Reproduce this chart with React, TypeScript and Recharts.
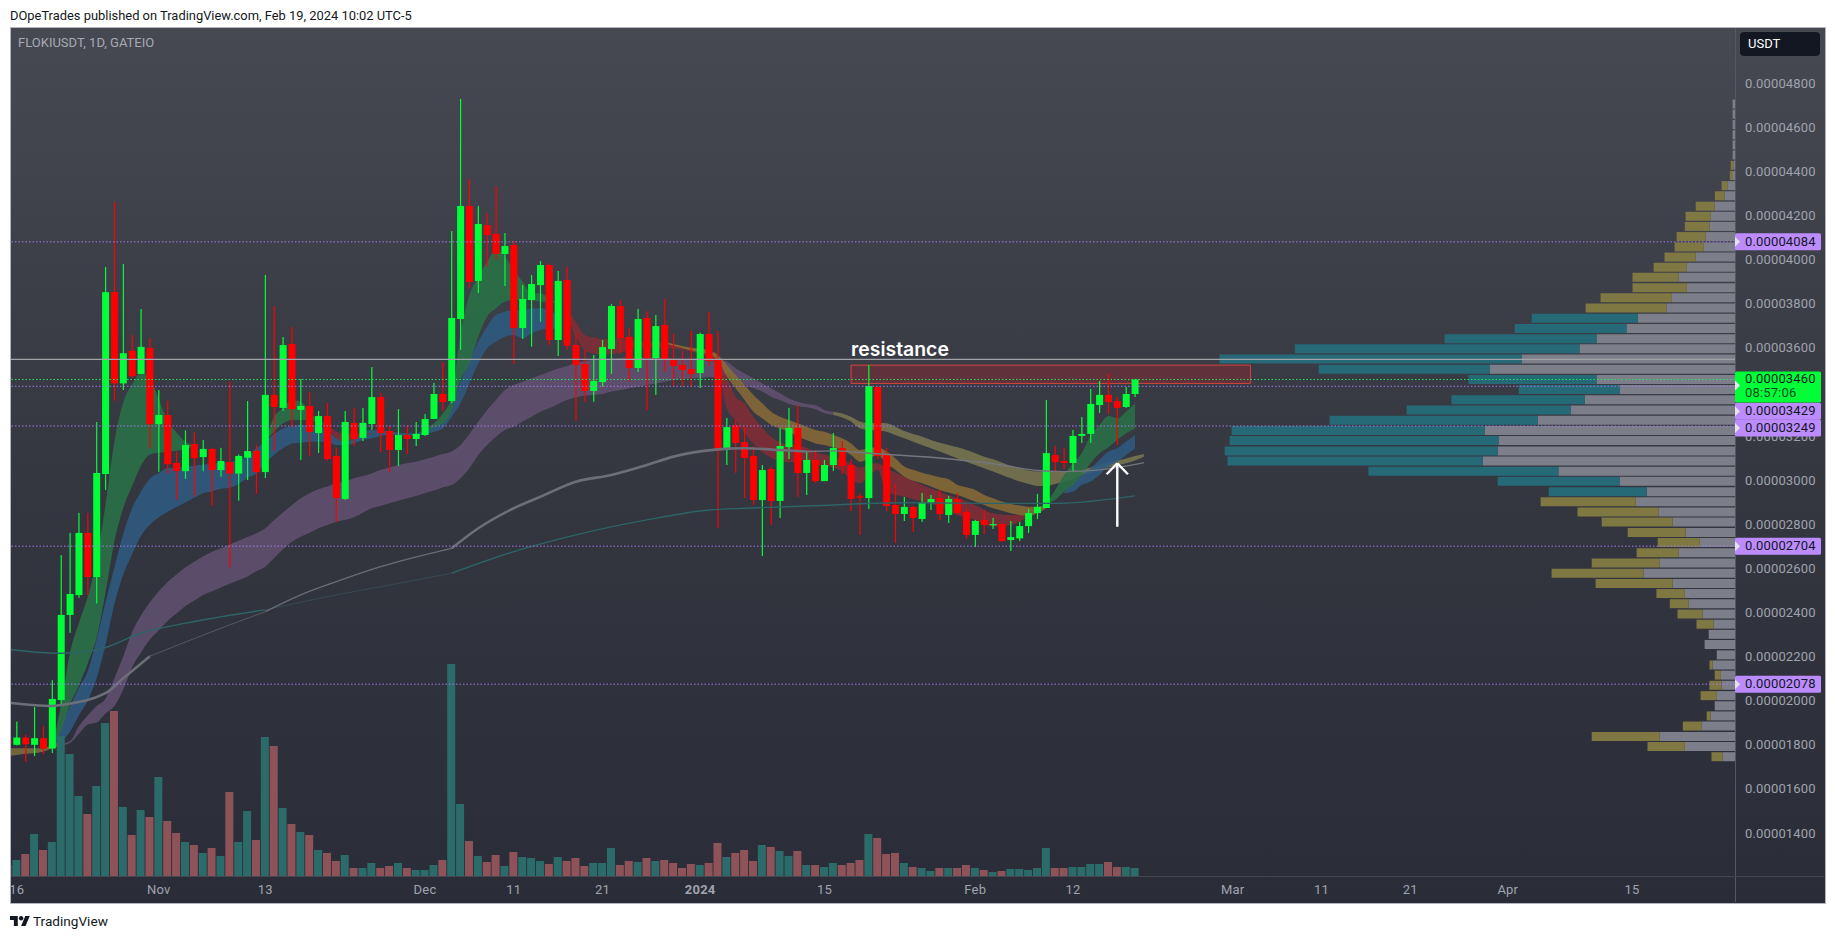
import React from 'react';
import {
  Area,
  Bar,
  BarChart,
  Cell,
  ComposedChart,
  Line,
  ReferenceArea,
  ReferenceDot,
  ReferenceLine,
  XAxis,
  YAxis,
} from 'recharts';

// prices are in units of 0.00000001 USDT, days are counted from Nov 1 2023
const FIRST_DAY = -17;

const opens = [
  1836, 1803, 1836, 1803, 1833, 1786, 2006, 2392, 2482, 2764, 2564, 3031, 3856, 3442, 3590, 3485, 3603,
  3257, 3299, 3081, 3044, 3167, 3108, 3145, 3049, 3086, 3033, 3105, 3136, 3040, 3390, 3331, 3621, 3322, 3340, 3217,
  3294, 3113, 2918, 3263, 3195, 3258, 3380, 3226, 3140, 3208, 3190, 3208, 3281, 3394, 3362, 3734, 4247, 3907, 4160, 4120,
  4029, 4070, 3693, 3820, 3888, 3979, 3639, 3911, 3616, 3530, 3408, 3448, 3598, 3793, 3653, 3512, 3739, 3557, 3707, 3553,
  3526, 3507, 3489, 3666, 3548, 3140, 3253, 3176, 3113, 2913, 3054, 2909, 3153, 3240, 3036, 3095, 2999, 3072, 3149, 3072,
  2930, 2922, 3426, 3117, 2891, 2850, 2882, 2827, 2900, 2922, 2845, 2918, 2859, 2755, 2823, 2800, 2804, 2732, 2739, 2795,
  2854, 2877, 3117, 3090, 3081, 3204, 3213, 3344, 3390, 3362, 3335, 3394,
];
const closes = [
  1808, 1836, 1806, 1833, 1786, 2011, 2392, 2487, 2764, 2564, 3036, 3856, 3442, 3579, 3475, 3608, 3257,
  3299, 3076, 3044, 3163, 3103, 3145, 3049, 3090, 3033, 3113, 3135, 3040, 3390, 3335, 3616, 3326, 3340, 3222, 3294,
  3099, 2922, 3267, 3190, 3263, 3380, 3217, 3140, 3208, 3190, 3213, 3281, 3394, 3358, 3739, 4247, 3902, 4165, 4115, 4029,
  4065, 3693, 3825, 3893, 3979, 3639, 3907, 3613, 3526, 3408, 3453, 3607, 3793, 3648, 3512, 3734, 3557, 3702, 3548, 3521,
  3503, 3485, 3666, 3544, 3136, 3244, 3172, 3104, 2913, 3049, 2909, 3158, 3240, 3036, 3095, 2999, 3072, 3149, 3068, 2918,
  2924, 3430, 3113, 2886, 2850, 2882, 2832, 2904, 2918, 2850, 2918, 2855, 2755, 2818, 2800, 2804, 2727, 2745, 2795, 2854,
  2882, 3126, 3086, 3081, 3204, 3213, 3349, 3390, 3358, 3331, 3394, 3460,
];
const highs = [
  1840, 1908, 1849, 1974, 1887, 2096, 2663, 2764, 2855, 2855, 3267, 3970, 4266, 3984, 3662, 3779, 3648,
  3412, 3363, 3131, 3229, 3220, 3185, 3148, 3150, 3449, 3120, 3362, 3163, 3934, 3793, 3653, 3698, 3462, 3403, 3317,
  3353, 3149, 3317, 3331, 3331, 3516, 3399, 3249, 3326, 3253, 3267, 3303, 3444, 3539, 4133, 4732, 4369, 4247, 4213, 4337,
  4124, 4088, 3888, 3934, 3997, 3987, 3952, 3970, 3675, 3594, 3571, 3639, 3802, 3820, 3693, 3780, 3770, 3752, 3825, 3669,
  3589, 3680, 3672, 3766, 3680, 3285, 3281, 3244, 3158, 3072, 3063, 3240, 3331, 3344, 3131, 3140, 3095, 3217, 3181, 3095,
  2945, 3526, 3426, 3149, 2986, 2927, 2886, 2945, 2936, 2959, 2932, 2944, 2873, 2823, 2868, 2832, 2807, 2818, 2814, 2873,
  2941, 3367, 3158, 3149, 3231, 3290, 3417, 3453, 3485, 3380, 3426, 3460,
];
const lows = [
  1805, 1800, 1727, 1752, 1761, 1766, 1984, 2311, 2470, 2482, 2444, 2959, 3363, 3412, 3467, 3485, 3148,
  3041, 3033, 2915, 3009, 2929, 3044, 2888, 3019, 2608, 2910, 3004, 2941, 3013, 3136, 3317, 3243, 3095, 3113, 3127,
  3090, 2814, 2913, 3158, 3181, 3231, 3131, 3040, 3068, 3122, 3158, 3204, 3281, 3317, 3353, 3594, 3875, 3852, 3972, 4002,
  3884, 3530, 3644, 3609, 3722, 3616, 3566, 3594, 3272, 3359, 3359, 3427, 3485, 3578, 3450, 3494, 3321, 3390, 3494, 3430,
  3427, 3427, 3421, 3521, 2786, 3072, 3036, 2922, 2891, 2659, 2800, 2832, 3099, 2927, 2936, 2990, 2999, 3045, 3031, 2863,
  2755, 2873, 3099, 2863, 2718, 2818, 2768, 2814, 2868, 2823, 2809, 2845, 2736, 2700, 2759, 2782, 2724, 2682, 2727, 2764,
  2827, 2877, 3040, 3054, 3040, 3172, 3172, 3308, 3303, 3163, 3331, 3380,
];
const volumes = [
  11, 16, 22, 42, 26, 34, 140, 122, 80, 62, 90, 153, 165, 69, 41, 66, 59,
  99, 55, 43, 34, 31, 23, 28, 20, 84, 34, 65, 36, 139, 130, 68, 52, 44, 41, 26,
  23, 15, 21, 8, 8, 13, 8, 10, 13, 8, 6, 6, 11, 16, 212, 72, 35, 20, 14, 21,
  10, 24, 19, 18, 15, 12, 19, 15, 18, 10, 13, 13, 28, 11, 15, 14, 18, 15, 16, 13,
  8, 12, 11, 13, 33, 19, 23, 26, 15, 31, 29, 25, 20, 25, 11, 11, 9, 13, 11, 13,
  16, 42, 38, 22, 23, 13, 9, 8, 5, 8, 8, 8, 11, 8, 6, 4, 5, 7, 7, 6,
  8, 28, 8, 8, 9, 9, 12, 12, 14, 9, 9, 8,
];

// 3400 is left out: the last price tag sits on it in the reference
const priceTicks = [1400, 1600, 1800, 2000, 2200, 2400, 2600, 2800, 3000, 3200, 3600, 3800, 4000, 4200, 4400, 4600, 4800];
const dateTicks = [-16, 0, 12, 30, 40, 50, 61, 75, 92, 103, 121, 131, 141, 152, 166];
const dateLabels = ['16', 'Nov', '13', 'Dec', '11', '21', '2024', '15', 'Feb', '12', 'Mar', '11', '21', 'Apr', '15'];

type Band = [number, number, number]; // day, lower edge, upper edge

const greenBandA: Band[] = [
  [-12, 1790, 1800], [-11, 1870, 1987], [-10, 1987, 2222], [-9, 2071, 2356], [-8, 2172, 2474], [-7, 2289, 2642],
  [-6, 2491, 2893], [-5, 2725, 3178], [-4, 2877, 3355], [-3, 2977, 3438], [-2, 3069, 3489], [-1, 3120, 3464],
  [0, 3128, 3371], [1, 3132, 3271], [2, 3137, 3220], [3, 3145, 3178], [4, 3158, 3162],
];
const greenBandB: Band[] = [
  [11, 3130, 3132], [12, 3178, 3185], [13, 3223, 3291], [14, 3261, 3329], [15, 3276, 3367], [16, 3276, 3359],
  [17, 3276, 3314], [18, 3261, 3276], [19, 3250, 3252],
];
const greenBandC: Band[] = [
  [30, 3225, 3230], [31, 3243, 3261], [32, 3261, 3306], [33, 3322, 3382], [34, 3457, 3669], [35, 3533, 3843],
  [36, 3654, 3926], [37, 3745, 3994], [38, 3783, 4047], [39, 3813, 4017], [40, 3820, 3956], [41, 3820, 3904],
  [42, 3820, 3851], [43, 3813, 3851], [44, 3813, 3828], [45, 3800, 3804],
];
const greenBandD: Band[] = [
  [100, 2895, 2900], [101, 2913, 2959], [102, 2951, 3027], [103, 2981, 3080], [104, 3027, 3125], [105, 3080, 3208],
  [106, 3125, 3253], [107, 3152, 3294], [108, 3186, 3284], [109, 3216, 3314], [110, 3238, 3352],
];
const redBandA: Band[] = [
  [19, 3246, 3261], [20, 3193, 3223], [21, 3170, 3216], [22, 3193, 3216], [23, 3208, 3216], [24, 3212, 3216],
];
const redBandB: Band[] = [
  [46, 3745, 3775], [47, 3654, 3722], [48, 3594, 3662], [49, 3578, 3651], [50, 3571, 3642], [51, 3575, 3647],
  [52, 3582, 3651], [53, 3594, 3642], [54, 3601, 3631], [57, 3601, 3627], [60, 3586, 3601], [62, 3556, 3594],
  [63, 3510, 3556], [64, 3329, 3473], [65, 3276, 3382], [66, 3216, 3352], [67, 3170, 3291], [68, 3130, 3240],
  [69, 3105, 3200], [70, 3090, 3175], [71, 3085, 3165], [72, 3085, 3160], [73, 3090, 3150], [74, 3075, 3130],
  [75, 3070, 3120], [76, 3060, 3110], [77, 3045, 3095], [78, 3005, 3080], [79, 2990, 3060], [80, 3020, 3075],
  [81, 3050, 3080], [82, 2951, 3057], [84, 2928, 3019], [86, 2906, 2981], [88, 2883, 2951], [90, 2845, 2921],
  [92, 2823, 2891], [94, 2792, 2853], [96, 2800, 2845], [98, 2838, 2845],
];
const blueBandA: Band[] = [
  [-12, 1811, 1820], [-11, 1820, 1895], [-10, 1862, 1979], [-9, 1937, 2063], [-8, 2004, 2138], [-7, 2105, 2281],
  [-6, 2256, 2449], [-5, 2440, 2608], [-4, 2574, 2759], [-3, 2667, 2877], [-2, 2751, 2952], [-1, 2801, 3011],
  [0, 2835, 3036], [1, 2860, 3058], [2, 2882, 3061], [3, 2902, 3064], [4, 2923, 3069], [5, 2944, 3074],
  [6, 2952, 3078], [7, 2964, 3081], [8, 2969, 3086], [9, 2986, 3095], [10, 3014, 3111], [11, 3034, 3148],
  [12, 3080, 3178], [13, 3118, 3213], [14, 3148, 3238], [15, 3170, 3249], [16, 3173, 3253], [17, 3178, 3253],
  [18, 3178, 3246], [19, 3178, 3231], [20, 3163, 3193], [21, 3163, 3178], [22, 3170, 3193], [23, 3185, 3223],
  [24, 3193, 3231], [25, 3204, 3231], [26, 3208, 3223], [27, 3208, 3219], [28, 3204, 3216], [29, 3206, 3216],
  [30, 3213, 3231], [31, 3223, 3246], [32, 3238, 3276], [33, 3291, 3337], [34, 3352, 3450], [35, 3443, 3541],
  [36, 3533, 3631], [37, 3601, 3700], [38, 3631, 3752], [39, 3654, 3767], [40, 3662, 3775], [41, 3647, 3771],
  [42, 3669, 3783], [43, 3684, 3783], [44, 3692, 3775], [45, 3684, 3745],
];
const blueBandB: Band[] = [
  [102, 2945, 2950], [103, 2951, 2989], [104, 2981, 3027], [105, 2997, 3057], [106, 3027, 3095], [107, 3065, 3133],
  [108, 3087, 3148], [109, 3117, 3178], [110, 3148, 3208],
];
const mauveBand: Band[] = [
  [-12, 1790, 1795], [-11, 1800, 1806], [-10, 1811, 1820], [-9, 1853, 1887], [-8, 1895, 1937], [-7, 1904, 1979],
  [-6, 1945, 2012], [-5, 1979, 2105], [-4, 2054, 2205], [-3, 2155, 2315], [-2, 2222, 2390], [-1, 2281, 2449],
  [0, 2323, 2499], [1, 2365, 2541], [2, 2398, 2575], [3, 2432, 2608], [4, 2457, 2633], [5, 2482, 2658],
  [6, 2499, 2679], [7, 2516, 2695], [8, 2533, 2712], [9, 2549, 2729], [10, 2566, 2746], [11, 2590, 2762],
  [12, 2611, 2785], [13, 2650, 2823], [14, 2690, 2857], [15, 2724, 2891], [16, 2747, 2921], [17, 2765, 2944],
  [18, 2785, 2962], [19, 2800, 2974], [20, 2815, 2989], [21, 2823, 2997], [22, 2835, 3012], [23, 2856, 3022],
  [24, 2876, 3034], [25, 2886, 3050], [26, 2898, 3061], [27, 2910, 3072], [28, 2921, 3080], [29, 2932, 3087],
  [30, 2944, 3098], [31, 2956, 3110], [32, 2971, 3122], [33, 2981, 3133], [34, 3012, 3163], [35, 3057, 3213],
  [36, 3117, 3269], [37, 3163, 3322], [38, 3200, 3367], [39, 3231, 3412], [40, 3246, 3435], [41, 3269, 3450],
  [42, 3291, 3465], [43, 3314, 3480], [44, 3329, 3495], [45, 3349, 3510], [46, 3367, 3521], [47, 3379, 3533],
  [48, 3387, 3544], [49, 3390, 3548], [50, 3394, 3551], [51, 3405, 3554], [52, 3412, 3557], [53, 3420, 3560],
  [54, 3427, 3560], [55, 3435, 3560], [56, 3442, 3560], [57, 3450, 3557], [58, 3458, 3556], [59, 3461, 3554],
  [60, 3464, 3554], [61, 3467, 3554], [62, 3470, 3554], [63, 3473, 3551], [64, 3480, 3541], [65, 3458, 3510],
  [66, 3435, 3488], [67, 3420, 3465], [68, 3405, 3442], [69, 3382, 3420], [70, 3367, 3397], [71, 3349, 3374],
  [72, 3340, 3359], [73, 3334, 3349], [74, 3325, 3344], [75, 3307, 3322], [76, 3299, 3314],
];
const orangeBand: Band[] = [
  [57, 3624, 3631], [60, 3591, 3604], [62, 3571, 3594], [63, 3548, 3571], [64, 3473, 3526], [65, 3420, 3480],
  [66, 3367, 3435], [67, 3314, 3390], [68, 3284, 3352], [69, 3253, 3314], [70, 3238, 3291], [71, 3223, 3276],
  [72, 3200, 3261], [73, 3185, 3246], [74, 3170, 3231], [75, 3163, 3223], [76, 3152, 3208], [77, 3140, 3193],
  [78, 3117, 3170], [79, 3087, 3140], [80, 3102, 3148], [81, 3117, 3152], [82, 3080, 3133], [83, 3050, 3102],
  [84, 3019, 3065], [85, 3001, 3050], [86, 2989, 3037], [87, 2974, 3027], [88, 2959, 3016], [89, 2947, 3007],
  [90, 2936, 2981], [91, 2921, 2971], [92, 2906, 2959], [93, 2891, 2936], [94, 2876, 2921], [95, 2865, 2906],
  [96, 2853, 2895], [97, 2845, 2888], [98, 2841, 2883], [99, 2853, 2883], [100, 2876, 2891],
];
const oliveBandA: Band[] = [
  [-17, 1752, 1787], [-15, 1762, 1787], [-13, 1772, 1787], [-12, 1788, 1804], [-11, 1800, 1822],
];
const oliveBandB: Band[] = [
  [76, 3299, 3314], [77, 3288, 3306], [78, 3269, 3291], [79, 3238, 3269], [80, 3231, 3261], [81, 3228, 3264],
  [82, 3223, 3261], [83, 3208, 3246], [84, 3193, 3226], [85, 3178, 3213], [86, 3163, 3201], [87, 3148, 3185],
  [88, 3133, 3173], [89, 3117, 3163], [90, 3102, 3152], [91, 3087, 3140], [92, 3072, 3125], [93, 3057, 3110],
  [94, 3042, 3098], [95, 3027, 3083], [96, 3012, 3068], [97, 2997, 3057], [98, 2986, 3047], [99, 2977, 3042],
  [100, 2977, 3042], [101, 2986, 3042], [102, 2997, 3042], [103, 3007, 3047], [104, 3027, 3052], [105, 3034, 3061],
  [106, 3050, 3072], [107, 3061, 3083], [108, 3072, 3092], [109, 3080, 3102], [110, 3092, 3113], [111, 3110, 3122],
];

type Pt = [number, number]; // day, price

const grayLineThick: Pt[] = [[-17, 1994], [-12, 1979], [-11, 1984], [-6, 2037], [-4, 2105], [-1, 2205]];
const grayLineFaint: Pt[] = [[-1, 2205], [4, 2285], [12, 2407]];
const grayLineThin: Pt[] = [[12, 2407], [16, 2483], [20, 2543], [25, 2611], [33, 2694]];
const grayLineMid: Pt[] = [
  [33, 2694], [36, 2785], [40, 2876], [43, 2928], [47, 2996], [51, 3027], [55, 3072], [58, 3110], [63, 3143], [66, 3148], [70, 3140], [73, 3133],
];
const grayLineFar: Pt[] = [[73, 3133], [76, 3136], [80, 3125], [87, 3107], [95, 3072], [99, 3047], [102, 3042], [106, 3050], [111, 3083]];
const tealLineLeft: Pt[] = [[-17, 2236], [-11, 2218], [-7, 2233], [-2, 2309], [4, 2362], [12, 2415]];
const tealLineFaint: Pt[] = [[12, 2415], [20, 2483], [25, 2520], [33, 2581]];
const tealLineRight: Pt[] = [
  [33, 2581], [40, 2679], [47, 2755], [55, 2823], [62, 2868], [66, 2876], [73, 2886], [84, 2901], [95, 2898], [101, 2898], [110, 2932],
];

// volume profile rows, top to bottom
const profilePrices = [
  4711, 4665, 4618, 4572, 4526, 4480, 4433, 4387, 4341, 4295, 4248, 4202, 4156, 4110, 4063, 4017, 3971, 3925, 3878, 3832,
  3786, 3740, 3693, 3647, 3601, 3555, 3508, 3462, 3416, 3370, 3323, 3277, 3231, 3185, 3138, 3092, 3046, 3000, 2953, 2907,
  2861, 2815, 2768, 2722, 2676, 2630, 2583, 2537, 2491, 2445, 2398, 2352, 2306, 2260, 2213, 2167, 2121, 2075, 2028, 1982,
  1936, 1890, 1843, 1797, 1751,
];
const profileBase = [
  2.4, 2.4, 2.4, 2.4, 2.4, 2.4, 1.6, 2, 7.3, 10.5, 20.3, 24.3, 25.5, 29.6, 31.2, 39.3, 48.2, 56.3, 48.2, 63.2,
  68.4, 97.2, 108.5, 138.5, 155.5, 213.4, 245.4, 138.5, 115.4, 150.3, 164.4, 197.2, 250.3, 236.5, 237.3, 252.3, 176.6, 115.4, 88.3, 99.2,
  76.5, 62.4, 49.4, 35.2, 56.3, 75.3, 91.5, 62.4, 50.2, 46.6, 32.4, 21.5, 26.3, 30.4, 18.2, 22.3, 14.2, 13.4, 18.2, 20.3,
  24.3, 33.2, 75.3, 50.2, 12.6,
];
const profileTeal = [
  0, 0, 0, 0, 0, 0, 0, 0, 0, 0, 0, 0, 0, 0, 0, 0, 0, 0, 0, 0,
  0, 106.1, 111.8, 151.9, 284.7, 302.1, 170.9, 128, 100.9, 133.3, 164, 208.2, 253.1, 268.9, 273, 255.2, 190, 121.9, 98, 0,
  0, 0, 0, 0, 0, 0, 0, 0, 0, 0, 0, 0, 0, 0, 0, 0, 0, 0, 0, 0,
  0, 0, 0, 0, 0,
];
const profileOlive = [
  0, 0, 0, 0, 0, 0, 2.8, 3.2, 6.1, 9.7, 19, 25.1, 24.7, 28.8, 29.2, 31.2, 33.2, 46.2, 54.3, 71.3,
  81, 0, 0, 0, 0, 0, 0, 0, 0, 0, 0, 0, 0, 0, 0, 0, 0, 0, 0, 95.2,
  81, 70.9, 57.9, 42.1, 42.1, 68, 91.9, 77, 28.4, 18.6, 25.1, 17, 0, 0, 0, 3.2, 6.1, 12.2, 16.2, 0,
  4, 19, 68, 37.3, 10.9,
];

const purpleLevels = [4084, 3429, 3249, 2704, 2078];
const lastPrice = 3460;
const countdown = '08:57:06';
const topLine = 3551;
const zone = { x1: 78, x2: 123, y1: 3442, y2: 3525 };

const chartRows = opens.map((open, i) => ({
  day: FIRST_DAY + i,
  open,
  close: closes[i],
  range: [lows[i], highs[i]],
  volume: volumes[i],
}));
const profileRows = profilePrices.map((price, i) => ({
  price,
  base: profileBase[i],
  teal: profileTeal[i],
  olive: profileOlive[i],
}));
const toBand = (band: Band[]) => band.map(([day, lo, hi]) => ({ day, range: [lo, hi] }));
const toLine = (line: Pt[]) => line.map(([day, price]) => ({ day, price }));

const bands: { data: Band[]; fill: string; opacity: number }[] = [
  { data: mauveBand, fill: '#655474', opacity: 0.8 },
  { data: oliveBandA, fill: '#7b7040', opacity: 0.85 },
  { data: oliveBandB, fill: '#7d7a50', opacity: 0.82 },
  { data: blueBandA, fill: '#2f5a80', opacity: 0.9 },
  { data: blueBandB, fill: '#2f5a80', opacity: 0.9 },
  { data: redBandA, fill: '#8c2c35', opacity: 0.75 },
  { data: redBandB, fill: '#8c2c35', opacity: 0.78 },
  { data: orangeBand, fill: '#8a6c36', opacity: 0.85 },
  { data: greenBandA, fill: '#2a6f47', opacity: 0.92 },
  { data: greenBandB, fill: '#2a6f47', opacity: 0.92 },
  { data: greenBandC, fill: '#2a6f47', opacity: 0.92 },
  { data: greenBandD, fill: '#2a6f47', opacity: 0.88 },
];
const lines: { data: Pt[]; stroke: string; width: number }[] = [
  { data: tealLineLeft, stroke: '#2c6468', width: 1.4 },
  { data: tealLineFaint, stroke: '#364a52', width: 1 },
  { data: tealLineRight, stroke: '#2c6468', width: 1.4 },
  { data: grayLineThick, stroke: '#6c6e78', width: 2.6 },
  { data: grayLineFaint, stroke: '#565862', width: 1 },
  { data: grayLineThin, stroke: '#6a6c76', width: 1.4 },
  { data: grayLineMid, stroke: '#6c6e78', width: 2.6 },
  { data: grayLineFar, stroke: '#74767f', width: 1.4 },
];

const fmt = (v: number) => (v / 1e8).toFixed(8);
const UI_FONT = 'Roboto, sans-serif';
const AXIS_TEXT = '#a0a3ad';
const PURPLE = '#bc8cff';
const GREEN = '#00ff37';
const RED = '#ff0000';
const PROFILE_MARGIN = { left: 11, right: 100, top: 28, bottom: 63 };
const Y_DOMAIN: [number, number] = [1208, 5054];
const X_DOMAIN: [number, number] = [-16.65, 177.6];

const Candle = (props: any) => {
  const { x, y, width, height, payload } = props;
  const up = payload.close >= payload.open;
  const high = payload.range[1];
  const low = payload.range[0];
  const perUnit = height / (high - low);
  const top = y + (high - Math.max(payload.open, payload.close)) * perUnit;
  const bottom = y + (high - Math.min(payload.open, payload.close)) * perUnit;
  const fill = up ? GREEN : RED;
  return (
    <g>
      <rect x={x + width / 2 - 0.6} y={y} width={1.2} height={height} fill={fill} />
      <rect x={x} y={top} width={width} height={Math.max(bottom - top, 1.2)} fill={fill} />
    </g>
  );
};

const PriceTick = (props: any) => (
  <text x={1745} y={props.y} dy="0.3em" textAnchor="start" fontFamily={UI_FONT} fontSize={13} letterSpacing={0.15} fill={AXIS_TEXT}>
    {fmt(props.payload.value)}
  </text>
);

const DateTick = (props: any) => {
  const label = dateLabels[dateTicks.indexOf(props.payload.value)];
  return (
    <text
      x={props.x}
      y={894}
      textAnchor="middle"
      fontFamily={UI_FONT}
      fontSize={13}
      letterSpacing={0.2}
      fontWeight={label === '2024' ? 700 : 400}
      fill={AXIS_TEXT}
    >
      {label}
    </text>
  );
};

// price tag on the axis, pushed down by `shift` when the tags would overlap
const priceTag = (value: number, shift: number) => (props: any) => {
  const right = props.viewBox.x + props.viewBox.width;
  const cy = props.viewBox.y + shift;
  return (
    <g>
      <rect x={right} y={cy - 8.5} width={86} height={17} rx={1.5} fill={PURPLE} />
      <path d={`M${right} ${cy - 5}L${right + 5} ${cy}L${right} ${cy + 5}Z`} fill="#e3e3ea" />
      <text x={1745} y={cy} dy="0.3em" fontFamily={UI_FONT} fontSize={13} letterSpacing={0.15} fill="#131722">
        {fmt(value)}
      </text>
    </g>
  );
};

const lastTag = (props: any) => {
  const right = props.viewBox.x + props.viewBox.width;
  const cy = props.viewBox.y;
  return (
    <g>
      <rect x={right} y={cy - 8} width={86} height={31} rx={1.5} fill={GREEN} />
      <path d={`M${right} ${cy + 1}L${right + 5} ${cy + 6}L${right} ${cy + 11}Z`} fill="#e3e3ea" />
      <text x={1745} y={cy} dy="0.3em" fontFamily={UI_FONT} fontSize={13} letterSpacing={0.15} fill="#131722">
        {fmt(lastPrice)}
      </text>
      <text x={1745} y={cy + 14} dy="0.3em" fontFamily={UI_FONT} fontSize={13} letterSpacing={0.15} fill="#0d4a22">
        {countdown}
      </text>
    </g>
  );
};

export default function App() {
  return (
    <div style={{ position: 'absolute', left: 0, top: 0, width: 1835, height: 939, background: '#fff', overflow: 'hidden' }}>
      <div style={{ position: 'absolute', left: 10, top: 8, fontFamily: UI_FONT, fontSize: 12.9, color: '#131722', lineHeight: '16px', whiteSpace: 'nowrap' }}>
        DOpeTrades published on TradingView.com, Feb 19, 2024 10:02 UTC-5
      </div>

      {/* pane */}
      <div
        style={{
          position: 'absolute',
          left: 10,
          top: 27,
          width: 1814,
          height: 875,
          border: '1px solid #b2b5be',
          background: 'linear-gradient(180deg, #464852 0%, #33353f 55%, #2a2d38 100%)',
        }}
      />
      <div style={{ position: 'absolute', left: 1735, top: 28, width: 1, height: 874, background: '#555762' }} />
      <div style={{ position: 'absolute', left: 11, top: 876, width: 1813, height: 1, background: '#444650' }} />

      <div style={{ position: 'absolute', left: 0, top: 0 }}>
        <BarChart width={1835} height={939} data={profileRows} layout="vertical" margin={PROFILE_MARGIN} barGap={0}>
          <XAxis type="number" domain={[0, 1724]} reversed hide />
          <YAxis type="number" dataKey="price" domain={Y_DOMAIN} allowDataOverflow reversed hide />
          <Bar dataKey="base" stackId="profile" fill="#7c7f89" barSize={9} isAnimationActive={false} />
          <Bar dataKey="teal" stackId="profile" fill="#266a78" barSize={9} isAnimationActive={false} />
          <Bar dataKey="olive" stackId="profile" fill="#807842" barSize={9} isAnimationActive={false} />
        </BarChart>
      </div>

      <div style={{ position: 'absolute', left: 0, top: 0 }}>
        <ComposedChart width={1835} height={939} data={chartRows} margin={{ left: 11, right: 10, top: 28, bottom: 27 }}>
          <XAxis
            dataKey="day"
            type="number"
            domain={X_DOMAIN}
            allowDataOverflow
            ticks={dateTicks}
            interval={0}
            height={36}
            axisLine={false}
            tickLine={false}
            tick={DateTick}
          />
          <XAxis xAxisId="vol" dataKey="day" type="number" domain={X_DOMAIN} allowDataOverflow hide />
          <YAxis
            orientation="right"
            type="number"
            domain={Y_DOMAIN}
            allowDataOverflow
            ticks={priceTicks}
            interval={0}
            width={90}
            axisLine={false}
            tickLine={false}
            tick={PriceTick}
          />
          <YAxis yAxisId="vol" type="number" domain={[0, 848]} hide />

          <Bar xAxisId="vol" yAxisId="vol" dataKey="volume" barSize={8} isAnimationActive={false}>
            {chartRows.map((row) => (
              <Cell key={row.day} fill={row.close >= row.open ? '#2b6c6b' : '#8d5359'} />
            ))}
          </Bar>

          {bands.map((band, i) => (
            <Area
              key={i}
              data={toBand(band.data)}
              dataKey="range"
              type="monotone"
              stroke="none"
              fill={band.fill}
              fillOpacity={band.opacity}
              dot={false}
              activeDot={false}
              isAnimationActive={false}
            />
          ))}
          {lines.map((line, i) => (
            <Line
              key={i}
              data={toLine(line.data)}
              dataKey="price"
              type="monotone"
              stroke={line.stroke}
              strokeWidth={line.width}
              dot={false}
              activeDot={false}
              isAnimationActive={false}
            />
          ))}

          <ReferenceLine y={topLine} stroke="#a3a4a9" strokeWidth={1.3} />
          {purpleLevels.map((level) => (
            <ReferenceLine key={level} y={level} stroke="#a37cf0" strokeDasharray="1.5 2" strokeWidth={1} />
          ))}
          <ReferenceLine y={lastPrice} stroke="#23e860" strokeDasharray="1.5 2" strokeWidth={1} />
          <ReferenceArea {...zone} fill="#b0202c" fillOpacity={0.33} stroke="#d2453f" strokeWidth={1} />

          <Bar dataKey="range" barSize={7} shape={Candle} isAnimationActive={false} />

          <ReferenceLine segment={[{ x: 108, y: 2792 }, { x: 108, y: 3080 }]} stroke="#fff" strokeWidth={2.4} />
          <ReferenceLine segment={[{ x: 106.8, y: 3030 }, { x: 108, y: 3080 }]} stroke="#fff" strokeWidth={2.4} />
          <ReferenceLine segment={[{ x: 109.2, y: 3030 }, { x: 108, y: 3080 }]} stroke="#fff" strokeWidth={2.4} />

          <ReferenceDot
            x={78}
            y={3598}
            r={0}
            shape={(p: any) => (
              <text x={p.cx} y={p.cy} dy="0.35em" fontFamily="Inter, sans-serif" fontWeight={600} fontSize={19.4} fill="#fff">
                resistance
              </text>
            )}
          />
        </ComposedChart>
      </div>

      {/* price tags go over the axis ticks, as in the reference */}
      <div style={{ position: 'absolute', left: 0, top: 0 }}>
        <ComposedChart width={1835} height={939} data={chartRows} margin={PROFILE_MARGIN}>
          <XAxis dataKey="day" type="number" domain={X_DOMAIN} allowDataOverflow hide />
          <YAxis type="number" domain={Y_DOMAIN} allowDataOverflow hide />
          {purpleLevels.map((level) => (
            <ReferenceLine
              key={level}
              y={level}
              strokeOpacity={0}
              label={priceTag(level, level === 3429 ? 25 : level === 3249 ? 2 : 0)}
            />
          ))}
          <ReferenceLine y={lastPrice} strokeOpacity={0} label={lastTag} />
        </ComposedChart>
      </div>

      <div style={{ position: 'absolute', left: 18, top: 35, fontFamily: UI_FONT, fontSize: 13, color: '#a8aab2', lineHeight: '16px', whiteSpace: 'nowrap' }}>
        FLOKIUSDT, 1D, GATEIO
      </div>
      <div
        style={{
          position: 'absolute',
          left: 1740,
          top: 32,
          width: 80,
          height: 24,
          borderRadius: 4,
          background: '#131722',
          color: '#fff',
          fontFamily: UI_FONT,
          fontSize: 13,
          lineHeight: '24px',
          paddingLeft: 8,
          boxSizing: 'border-box',
        }}
      >
        USDT
      </div>

      <svg style={{ position: 'absolute', left: 10, top: 916 }} width={20} height={10} viewBox="0 4 36 18">
        <path d="M14 22H7V11H0V4h14v18zM28 22h-8l7.5-18h8L28 22z" fill="#131722" />
        <circle cx={20} cy={8} r={4} fill="#131722" />
      </svg>
      <div style={{ position: 'absolute', left: 33, top: 913, fontFamily: UI_FONT, fontSize: 13.6, color: '#131722', lineHeight: '16px', whiteSpace: 'nowrap' }}>
        TradingView
      </div>
    </div>
  );
}
